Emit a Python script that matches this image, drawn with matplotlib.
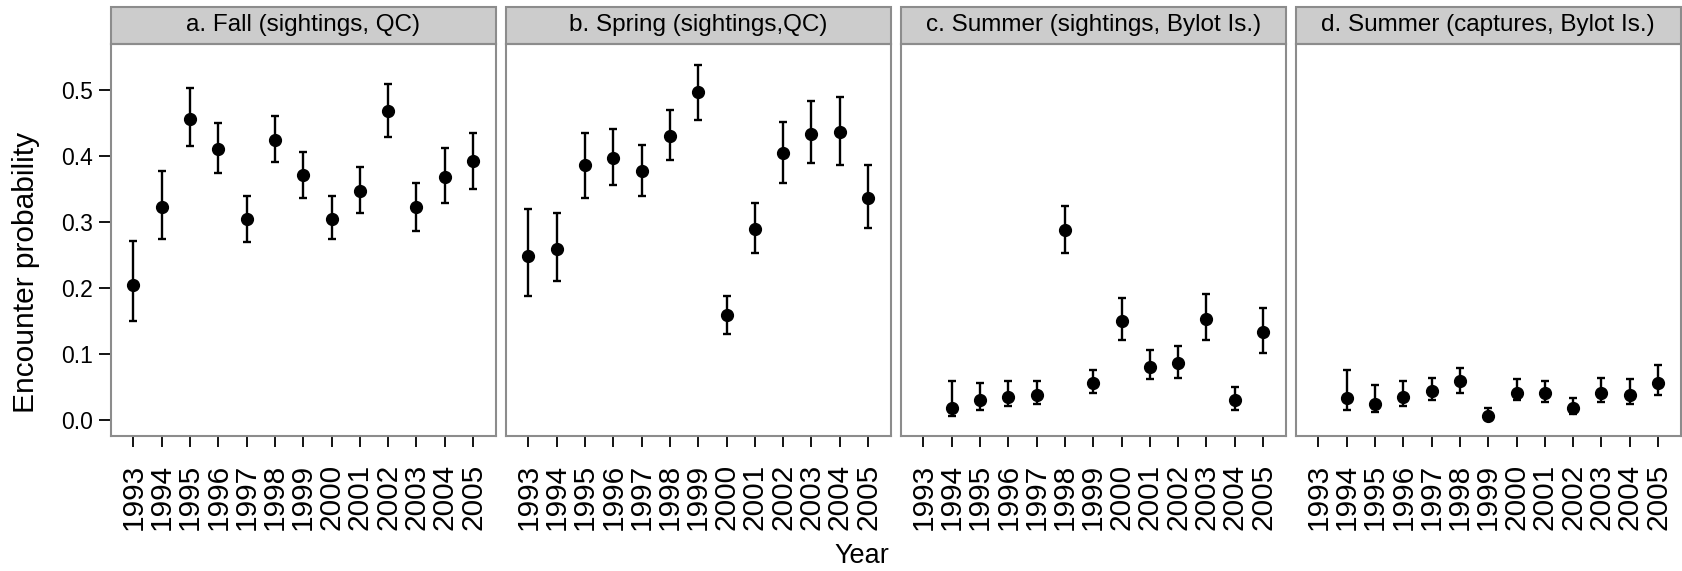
import matplotlib
matplotlib.use("Agg")
import matplotlib.pyplot as plt
from matplotlib.patches import Rectangle

plt.rcParams['font.family'] = ['Liberation Sans', 'DejaVu Sans']

years = [1993, 1994, 1995, 1996, 1997, 1998, 1999, 2000, 2001, 2002, 2003, 2004, 2005]
titles = ["a. Fall (sightings, QC)", "b. Spring (sightings,QC)",
          "c. Summer (sightings, Bylot Is.)", "d. Summer (captures, Bylot Is.)"]

fall_est = [0.204, 0.322, 0.456, 0.410, 0.304, 0.423, 0.370, 0.304, 0.347, 0.468, 0.322, 0.368, 0.391]
fall_lo  = [0.149, 0.273, 0.414, 0.374, 0.269, 0.390, 0.336, 0.273, 0.313, 0.428, 0.285, 0.328, 0.350]
fall_hi  = [0.270, 0.376, 0.503, 0.450, 0.339, 0.460, 0.405, 0.339, 0.382, 0.508, 0.359, 0.411, 0.434]

spring_est = [0.247, 0.259, 0.385, 0.397, 0.376, 0.430, 0.497, 0.158, 0.288, 0.404, 0.433, 0.436, 0.336]
spring_lo  = [0.187, 0.210, 0.336, 0.356, 0.339, 0.393, 0.454, 0.129, 0.253, 0.359, 0.388, 0.385, 0.290]
spring_hi  = [0.319, 0.313, 0.434, 0.440, 0.416, 0.469, 0.537, 0.187, 0.328, 0.451, 0.483, 0.489, 0.385]

sumsight_est = [None, 0.018, 0.029, 0.034, 0.037, 0.287, 0.055, 0.150, 0.080, 0.086, 0.153, 0.029, 0.132]
sumsight_lo  = [None, 0.006, 0.015, 0.020, 0.023, 0.253, 0.040, 0.121, 0.061, 0.063, 0.121, 0.015, 0.101]
sumsight_hi  = [None, 0.058, 0.055, 0.058, 0.058, 0.324, 0.075, 0.184, 0.106, 0.112, 0.190, 0.049, 0.169]

sumcap_est = [None, 0.032, 0.023, 0.034, 0.043, 0.058, 0.006, 0.040, 0.040, 0.018, 0.040, 0.037, 0.055]
sumcap_lo  = [None, 0.015, 0.012, 0.020, 0.029, 0.040, 0.001, 0.029, 0.026, 0.009, 0.026, 0.023, 0.037]
sumcap_hi  = [None, 0.075, 0.052, 0.058, 0.063, 0.078, 0.017, 0.061, 0.058, 0.032, 0.063, 0.061, 0.083]

yticks = [0.0, 0.1, 0.2, 0.3, 0.4, 0.5]

series = [(fall_est, fall_lo, fall_hi), (spring_est, spring_lo, spring_hi),
          (sumsight_est, sumsight_lo, sumsight_hi), (sumcap_est, sumcap_lo, sumcap_hi)]

W, H = 1682, 571
fig = plt.figure(figsize=(W / 100, H / 100), dpi=100)

border = '#8c8c8c'
left0 = 110.7
pw = 385.0
step = 395.0
top_px = 44.0
bot_px = 436.0
strip_h = 37.0
ph = bot_px - top_px

for i, (title, (est, lo, hi)) in enumerate(zip(titles, series)):
    ax = fig.add_axes([(left0 + i * step) / W, 1 - bot_px / H, pw / W, ph / H])
    xs, ys, el, eh = [], [], [], []
    for k, (e, l, h) in enumerate(zip(est, lo, hi)):
        if e is None:
            continue
        xs.append(k + 1)
        ys.append(e)
        el.append(e - l)
        eh.append(h - e)
    ax.errorbar(xs, ys, yerr=[el, eh], fmt='o', color='black', ms=8.5,
                elinewidth=1.7, capsize=3.0, capthick=1.7)
    ax.set_xlim(0.2, 13.8)
    ax.set_ylim(-0.025, 0.569)
    ax.set_xticks(range(1, len(years) + 1))
    ax.set_xticklabels([str(y) for y in years], rotation=90, fontsize=21.5)
    ax.tick_params(axis='x', length=8, width=1.3, pad=12, color='black')
    if i == 0:
        ax.set_yticks(yticks)
        ax.set_yticklabels([f"{v:.1f}" for v in yticks], fontsize=16.5)
        ax.tick_params(axis='y', length=9, width=1.3, pad=4, color='black')
    else:
        ax.set_yticks([])
    for s in ax.spines.values():
        s.set_color(border)
        s.set_linewidth(1.5)
    rect = Rectangle((0, 1), 1, strip_h / ph, transform=ax.transAxes,
                     facecolor='#cccccc', edgecolor=border, linewidth=1.5,
                     clip_on=False)
    ax.add_patch(rect)
    ax.text(0.5, 1 + strip_h / ph / 2, title, transform=ax.transAxes,
            ha='center', va='center', fontsize=17.5)

fig.text(26 / W, 1 - 272 / H, "Encounter probability", rotation=90,
         ha='center', va='center', fontsize=21.5)
fig.text(862 / W, 1 - 563 / H, "Year", ha='center', va='baseline', fontsize=19.5)

fig.savefig("out.png", dpi=100)
